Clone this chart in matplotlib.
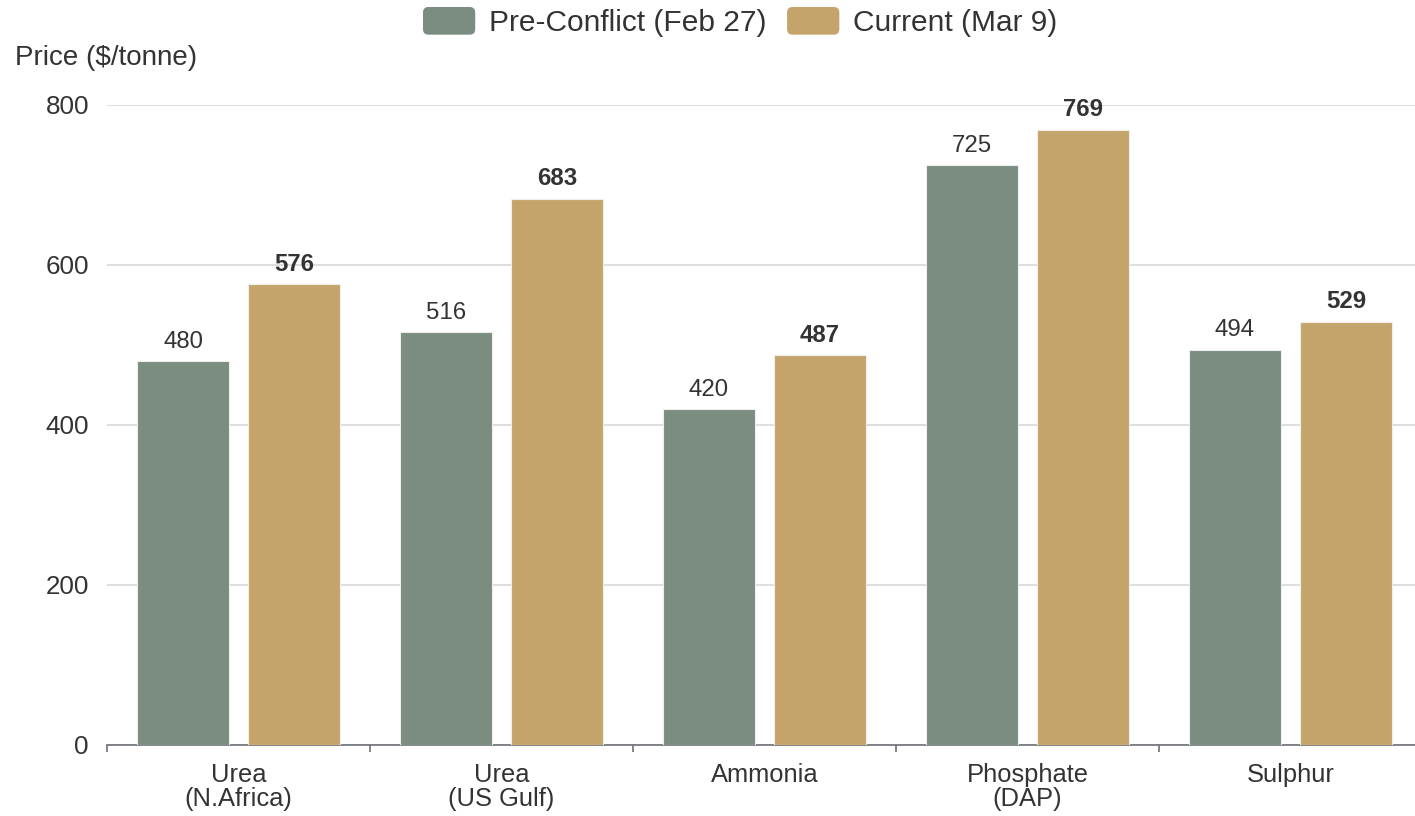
import matplotlib.pyplot as plt
import numpy as np
from matplotlib.patches import FancyBboxPatch, Patch
from matplotlib.legend_handler import HandlerPatch

plt.rcParams['font.family'] = ['Liberation Sans', 'DejaVu Sans']

categories = ['Urea\n(N.Africa)', 'Urea\n(US Gulf)', 'Ammonia', 'Phosphate\n(DAP)', 'Sulphur']
pre_conflict = [480, 516, 420, 725, 494]
current = [576, 683, 487, 769, 529]
series_names = ['Pre-Conflict (Feb 27)', 'Current (Mar 9)']

GREEN = '#7b8c80'
GOLD = '#c4a46a'
TEXT = '#333333'


class RoundHandler(HandlerPatch):
    def create_artists(self, legend, orig_handle, xdescent, ydescent, width, height, fontsize, trans):
        p = FancyBboxPatch((-xdescent, -ydescent), width, height,
                           boxstyle='round,pad=0,rounding_size=%f' % (height * 0.2),
                           facecolor=orig_handle.get_facecolor(), edgecolor='none', transform=trans)
        return [p]


fig = plt.figure(figsize=(14.15, 8.16), dpi=100)
ax = fig.add_axes([107 / 1415, 71 / 816, 1315 / 1415, 640 / 816])

x = np.arange(len(categories))
w = 0.35
off = 0.211
ax.bar(x - off, pre_conflict, w, color=GREEN, edgecolor='#eeeeee', linewidth=0.8, zorder=3)
ax.bar(x + off, current, w, color=GOLD, edgecolor='#eeeeee', linewidth=0.8, zorder=3)

# value labels: pre-conflict normal, current bold
for xi, v in zip(x, pre_conflict):
    ax.annotate(str(v), (xi - off, v), xytext=(0, 6), textcoords='offset points',
                ha='center', va='bottom', fontsize=17.3, color=TEXT)
for xi, v in zip(x, current):
    ax.annotate(str(v), (xi + off, v), xytext=(0, 6), textcoords='offset points',
                ha='center', va='bottom', fontsize=17.3, color=TEXT, fontweight='bold')

ax.set_xlim(-0.5, len(categories) - 0.5)
ax.set_ylim(0, 800)
ax.set_yticks([0, 200, 400, 600, 800])
ax.tick_params(axis='y', length=0, pad=13, labelsize=18.7, labelcolor=TEXT)
ax.yaxis.grid(True, color='#d4d4d4', linewidth=1.1, zorder=0)
ax.set_axisbelow(True)

ax.set_xticks(np.arange(len(categories) + 1) - 0.5)
ax.set_xticklabels([])
ax.set_xticks(x, minor=True)
ax.set_xticklabels(categories, minor=True)
ax.tick_params(axis='x', which='major', length=5, width=1.2, color='#6e7079', direction='out')
ax.tick_params(axis='x', which='minor', length=0, pad=13, labelsize=18.4, labelcolor=TEXT)
for lbl in ax.get_xticklabels(minor=True):
    lbl.set_linespacing(1.0)

for s in ['top', 'right', 'left']:
    ax.spines[s].set_visible(False)
ax.spines['bottom'].set_color('#6e7079')
ax.spines['bottom'].set_linewidth(1.2)

fig.text(15 / 1415, 1 - 58 / 816, 'Price ($/tonne)', fontsize=20, color=TEXT, va='center', ha='left')

handles = [Patch(facecolor=GREEN), Patch(facecolor=GOLD)]
fig.legend(handles, series_names, loc='center', bbox_to_anchor=(740 / 1415, 1 - 22 / 816),
           ncol=2, frameon=False, fontsize=21.5, handlelength=1.75, handleheight=1.05,
           handletextpad=0.45, columnspacing=0.7, labelcolor=TEXT,
           handler_map={Patch: RoundHandler()})

fig.savefig('out.png', dpi=100)
